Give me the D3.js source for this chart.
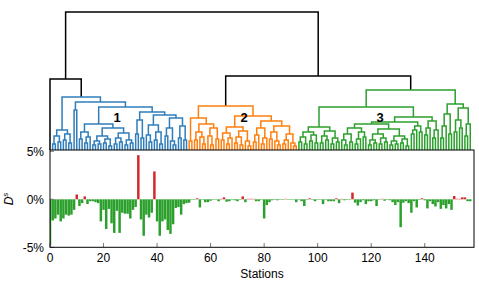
<!DOCTYPE html>
<html>
<head>
<meta charset="utf-8">
<script src="https://cdn.jsdelivr.net/npm/d3@7"></script>
<style>
  body { margin: 0; background: #fff; }
  text { font-family: "Liberation Sans", Arial, sans-serif; }
</style>
</head>
<body>
<div id="chart"></div>
<script>
// D^s per station (%), stations 0..157 in dendrogram leaf order
const stationDs = [
  -4.8, -2.2, -2.0, -1.6, -2.3, -2.0, -1.6, -1.7, -1.6, -1.1,
   0.5, -0.7, -0.4,  0.3, -0.5, -0.2, -0.2, -0.3, -0.4, -2.3,
  -1.1, -3.1, -1.0, -2.5, -3.5, -1.2, -3.5, -1.4, -1.5, -1.5,
  -2.0, -1.1, -0.8,  4.6, -2.1, -3.8, -1.6, -1.9, -1.4,  2.9,
  -2.3, -3.8, -2.3, -2.1, -3.2, -3.6, -2.6, -0.9, -0.8, -1.6,
  -0.5, -0.4, -0.35, -0.05, -0.05, 0.1, -0.85, -0.05, -0.3, -0.3,
  -0.15, -0.05, -0.05, -0.2, 0.05, 0.2, -0.25, -0.2, -0.05, -0.1,
  -0.2, -0.05, 0.3, -0.3, 0.05, 0.05, 0.05, -0.2, -0.2, -0.05,
  -2.0, -0.6, -0.3, -0.1, -0.05, -0.1, -0.05, -0.05, 0.05, -0.05,
  -0.05, -0.05, -0.3, -0.05, -0.2, -0.7, -0.05, 0.1, -0.05, -0.2,
  -0.05, -0.05, -0.5, -0.05, -0.2, -0.2, -0.2, 0.1, -0.4, 0.05,
  -0.1, -0.05, -0.05, 0.7, -0.35, -0.65, -0.3, -0.1, -0.5, -0.2,
  -0.2, -0.1, -0.7, -0.05, 0.05, -0.15, -0.05, -0.1, -0.3, -0.6,
  -0.3, -2.9, -0.35, -0.2, -0.4, -1.4, -0.2, -0.85, -0.05, 0.1,
  -0.1, -0.95, -0.2, -0.5, -0.75, -0.3, -1.0, -0.6, -0.95, -0.5,
  -1.1, 0.35, 0.05, 0.05, 0.2, 0.2, -0.2, -0.2
];

const xTicks = [0, 20, 40, 60, 80, 100, 120, 140];
const yTicks = [-5, 0, 5];
const clusterNames = ["1", "2", "3"];
const clusterColors = ["#2f7dba", "#ff7f0e", "#2ca02c"];

// dendrogram: node = [mergeHeight, left, right], leaf = 0
const blueTree = [5.3,
  [2.0, [1.4, [0.6, 0, 0], [0.8, 0, 0]], [1.6, [1.0, 0, 0], [0.7, 0, 0]]],
  [4.8,
    [4.0, 0, 0],
    [4.3,
      [2.6,
        [1.8, [1.1, 0, 0], [1.3, [0.7, 0, 0], 0]],
        [2.2,
          [1.4, [0.9, [0.5, 0, 0], [0.6, 0, 0]], [1.1, [0.7, 0, 0], [0.4, 0, 0]]],
          [1.7, [1.2, [0.6, 0, 0], [0.8, 0, 0]], [1.0, [0.5, 0, 0], [0.7, 0, 0]]]]],
      [3.8,
        [3.0, [1.6, 0, 0], [1.2, 0, 0]],
        [3.5,
          [2.5, [1.5, 0, [0.8, 0, 0]], [1.8, [1.0, 0, 0], [0.6, 0, 0]]],
          [3.2, [2.2, [1.4, 0, 0], [0.9, 0, [0.5, 0, 0]]], [2.4, [1.2, 0, 0], [1.0, 0, 0]]]]]]]];

const orangeTree = [4.4,
  [3.2,
    [0.9, 0, 0],
    [2.6, [1.8, [1.0, 0, 0], [1.3, 0, [0.6, 0, 0]]], [2.2, [1.4, 0, [0.5, 0, 0]], [1.1, 0, 0]]]],
  [3.4,
    [2.3, [1.7, [1.0, 0, 0], [1.2, [0.6, 0, 0], 0]], [1.9, [1.3, [0.7, 0, 0], [0.5, 0, 0]], [0.9, 0, [0.4, 0, 0]]]],
    [2.9,
      [2.2, [1.5, [0.8, 0, 0], 0], [1.2, [0.6, 0, 0], 0]],
      [2.4, [1.8, [1.1, 0, 0], [0.9, 0, [0.5, 0, 0]]], [1.6, [1.0, [0.6, 0, 0], 0], [0.7, 0, [0.4, 0, 0]]]]]]];

const greenTree = [6.0,
  [4.3,
    [2.3,
      [1.8, [1.3, [0.8, 0, 0], [0.6, 0, 0]], [1.5, [0.9, 0, 0], [0.7, 0, 0]]],
      [1.9, [1.4, [0.7, 0, 0], [1.0, 0, 0]], [1.2, [0.6, 0, 0], [0.8, 0, 0]]]],
    [3.3,
      [2.8,
        [2.6,
          [2.2, [1.6, [1.0, 0, [0.5, 0, 0]], [0.8, 0, 0]], [1.8, [1.1, [0.6, 0, 0], 0], [1.3, 0, 0]]],
          [2.1,
            [1.6, [1.0, [0.5, 0, 0], [0.7, 0, 0]], [1.2, [0.6, 0, 0], [0.8, 0, 0]]],
            [1.4, [0.9, [0.5, 0, 0], [0.6, 0, 0]], [1.1, [0.7, 0, 0], [0.4, 0, 0]]]]],
        [2.4, [2.0, [1.6, 0, 0], 0], [1.8, 0, 0]]],
      [2.9, [2.2, [1.5, 0, 0], 0], [2.0, [1.2, 0, 0], 0]]]],
  [4.6,
    [3.6, [2.4, [1.2, 0, 0], 0], [1.6, 0, 0]],
    [4.2, [3.0, [1.8, 0, 0], [2.2, 0, 0]], [2.6, [1.4, 0, 0], 0]]]];

const rootHeight = 13.8;
const leftHeight = 7.1;
const rightHeight = 7.4;

let width = 479;
let height = 286;

var svg = d3.select("#chart")
  .append("svg")
  .attr("width", width)
  .attr("height", height);

var x = d3.scaleLinear().domain([0, 158.4]).range([50, 474]);
var yBar = d3.scaleLinear().domain([-5, 5]).range([247.3, 151.3]);
var yTree = d3.scaleLinear().domain([0, rootHeight]).range([150, 12]);

// ---- dendrogram ----
var treeData = [rootHeight, [leftHeight, 0, blueTree], [rightHeight, orangeTree, greenTree]];
var clusterTrees = [blueTree, orangeTree, greenTree];

var root = d3.hierarchy(treeData, d => Array.isArray(d) ? [d[1], d[2]] : null);
root.leaves().forEach((leaf, i) => { leaf.k = i; });
root.eachAfter(n => {
  n.h = n.children ? n.data[0] : 0;
  if (n.children) n.k = (n.children[0].k + n.children[1].k) / 2;
});
root.each(n => {
  n.color = "#000";
  n.ancestors().forEach(a => {
    var ci = clusterTrees.indexOf(a.data);
    if (ci >= 0) n.color = clusterColors[ci];
  });
});

svg.append("g")
  .selectAll("path")
  .data(root.descendants().filter(n => n.children))
  .enter()
  .append("path")
  .attr("d", n => {
    var a = n.children[0], b = n.children[1];
    return "M" + x(a.k) + "," + yTree(a.h) + "V" + yTree(n.h) + "H" + x(b.k) + "V" + yTree(b.h);
  })
  .attr("fill", "none")
  .attr("stroke", n => n.color)
  .attr("stroke-width", 1.5);

// cluster labels
var clusterNodes = root.descendants().filter(n => clusterTrees.indexOf(n.data) >= 0);
svg.append("g")
  .selectAll("text")
  .data(clusterNodes)
  .enter()
  .append("text")
  .attr("x", (n, i) => [117, 244, 380][i])
  .attr("y", 122)
  .attr("text-anchor", "middle")
  .attr("font-size", "13px")
  .attr("font-weight", "bold")
  .text((n, i) => clusterNames[i]);

// ---- bars ----
svg.append("clipPath").attr("id", "plotclip")
  .append("rect").attr("x", 50).attr("y", 150).attr("width", 424).attr("height", 98);

var bw = x(1) - x(0);
svg.append("g")
  .attr("clip-path", "url(#plotclip)")
  .selectAll("rect")
  .data(stationDs)
  .enter()
  .append("rect")
  .attr("x", (d, i) => x(i - 0.5) + 0.1)
  .attr("width", bw - 0.2)
  .attr("y", d => yBar(Math.max(0, d)))
  .attr("height", d => Math.abs(yBar(d) - yBar(0)))
  .attr("fill", d => d > 0 ? "#d62728" : "#2ca02c");

// ticks
svg.append("g")
  .selectAll("line")
  .data(xTicks)
  .enter()
  .append("line")
  .attr("x1", d => x(d)).attr("x2", d => x(d))
  .attr("y1", 247).attr("y2", 243)
  .attr("stroke", "#777").attr("stroke-width", 1);

svg.append("g")
  .selectAll("line")
  .data(yTicks)
  .enter()
  .append("line")
  .attr("x1", 50).attr("x2", 54)
  .attr("y1", d => yBar(d)).attr("y2", d => yBar(d))
  .attr("stroke", "#777").attr("stroke-width", 1);

// frame
svg.append("rect")
  .attr("x", 50).attr("y", 150).attr("width", 424).attr("height", 97.3)
  .attr("fill", "none").attr("stroke", "#000").attr("stroke-width", 1);

// tick labels
svg.append("g")
  .selectAll("text")
  .data(xTicks)
  .enter()
  .append("text")
  .attr("x", d => x(d))
  .attr("y", 262)
  .attr("text-anchor", "middle")
  .attr("font-size", "12px")
  .text(d => d);

svg.append("g")
  .selectAll("text")
  .data(yTicks)
  .enter()
  .append("text")
  .attr("x", 44)
  .attr("y", d => yBar(d) + 4.5)
  .attr("text-anchor", "end")
  .attr("font-size", "12px")
  .text(d => d + "%");

svg.append("text")
  .attr("x", 262)
  .attr("y", 278)
  .attr("text-anchor", "middle")
  .attr("font-size", "12px")
  .text("Stations");

var ylab = svg.append("text")
  .attr("transform", "translate(13,199) rotate(-90)")
  .attr("text-anchor", "middle")
  .attr("font-size", "12px")
  .attr("font-style", "italic");
ylab.append("tspan").text("D");
ylab.append("tspan").attr("font-size", "8px").attr("dy", "-5").text("s");
</script>
</body>
</html>
